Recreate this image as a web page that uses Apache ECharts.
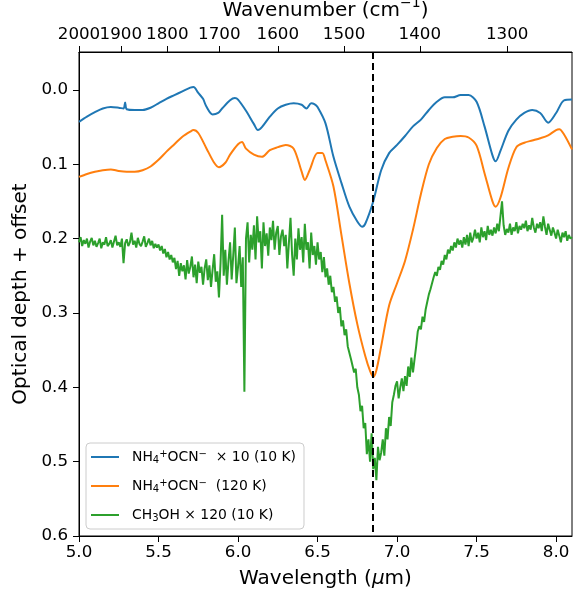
<!DOCTYPE html>
<html><head><meta charset="utf-8">
<script src="https://cdn.jsdelivr.net/npm/echarts@6/dist/echarts.min.js"></script>
<style>html,body{margin:0;padding:0;background:#fff}#c{width:585px;height:597px}</style>
</head><body><div id="c"></div>
<script>
// ---- data ----
const seriesNames = ['NH4+OCN- x 10 (10 K)', 'NH4+OCN- (120 K)', 'CH3OH x 120 (10 K)'];
const legendLabels = ['NH{sub|4}{sup|+}OCN{sup|−}  × 10 (10 K)', 'NH{sub|4}{sup|+}OCN{sup|−}  (120 K)', 'CH{sub|3}OH × 120 (10 K)'];

const blueWl = [5.00,5.05,5.10,5.15,5.20,5.25,5.28,5.29,5.30,5.35,5.40,5.45,5.50,5.55,5.60,5.65,5.70,5.72,5.75,5.78,5.80,5.84,5.875,5.90,5.95,5.98,6.00,6.05,6.10,6.125,6.15,6.20,6.25,6.30,6.35,6.40,6.43,6.46,6.48,6.50,6.55,6.60,6.65,6.70,6.75,6.78,6.80,6.85,6.90,6.95,7.00,7.05,7.10,7.15,7.20,7.25,7.30,7.35,7.40,7.45,7.50,7.55,7.60,7.62,7.65,7.70,7.75,7.80,7.85,7.90,7.95,8.00,8.05,8.10];
const blueTau = [0.043,0.036,0.030,0.025,0.023,0.024,0.025,0.017,0.026,0.027,0.027,0.024,0.018,0.012,0.007,0.002,-0.003,-0.004,0.004,0.012,0.022,0.033,0.031,0.025,0.014,0.011,0.013,0.028,0.046,0.054,0.050,0.036,0.025,0.020,0.018,0.020,0.025,0.018,0.019,0.023,0.045,0.090,0.125,0.157,0.177,0.184,0.180,0.150,0.108,0.085,0.074,0.062,0.049,0.040,0.027,0.016,0.010,0.010,0.007,0.007,0.016,0.049,0.088,0.096,0.082,0.055,0.040,0.031,0.027,0.031,0.044,0.031,0.014,0.013];

const orangeWl = [5.00,5.05,5.10,5.15,5.20,5.25,5.30,5.35,5.40,5.45,5.50,5.55,5.60,5.65,5.70,5.72,5.75,5.80,5.85,5.88,5.92,5.95,6.00,6.025,6.05,6.10,6.15,6.20,6.25,6.30,6.35,6.40,6.42,6.45,6.50,6.53,6.55,6.60,6.65,6.70,6.75,6.80,6.83,6.85,6.87,6.90,6.95,7.00,7.05,7.10,7.15,7.20,7.25,7.30,7.35,7.40,7.45,7.50,7.55,7.60,7.62,7.65,7.70,7.75,7.80,7.85,7.90,7.95,8.00,8.02,8.05,8.10];
const orangeTau = [0.117,0.113,0.110,0.108,0.107,0.109,0.110,0.110,0.108,0.103,0.094,0.083,0.073,0.063,0.056,0.054,0.058,0.078,0.098,0.104,0.098,0.087,0.073,0.070,0.079,0.087,0.090,0.081,0.077,0.074,0.079,0.110,0.121,0.108,0.085,0.085,0.095,0.130,0.195,0.260,0.315,0.358,0.378,0.386,0.377,0.345,0.290,0.260,0.230,0.188,0.140,0.100,0.078,0.066,0.063,0.062,0.064,0.075,0.112,0.150,0.157,0.145,0.105,0.077,0.071,0.068,0.065,0.061,0.054,0.053,0.060,0.080];

// green: sampled every 0.01 um from 5.00 um
const greenStartWl = 5.0;
const greenStepWl = 0.01;
const greenTau = [
0.205,0.198,0.210,0.202,0.207,0.200,0.212,0.204,0.199,0.209,
0.203,0.211,0.206,0.200,0.213,0.205,0.208,0.198,0.210,0.207,
0.202,0.212,0.204,0.196,0.209,0.205,0.211,0.200,0.233,0.206,
0.201,0.210,0.205,0.192,0.208,0.203,0.212,0.199,0.207,0.210,
0.204,0.197,0.211,0.206,0.200,0.209,0.203,0.213,0.207,0.212,
0.208,0.216,0.210,0.220,0.214,0.225,0.218,0.228,0.222,0.232,
0.226,0.241,0.230,0.250,0.233,0.244,0.236,0.255,0.229,0.247,
0.238,0.224,0.252,0.235,0.260,0.231,0.246,0.238,0.262,0.240,
0.228,0.256,0.236,0.265,0.242,0.221,0.258,0.244,0.279,0.233,
0.168,0.250,0.215,0.262,0.230,0.205,0.255,0.222,0.185,0.260,
0.238,0.210,0.265,0.225,0.406,0.200,0.178,0.232,0.195,0.215,
0.182,0.228,0.170,0.205,0.190,0.240,0.178,0.210,0.193,0.223,
0.185,0.202,0.176,0.215,0.192,0.183,0.222,0.197,0.188,0.210,
0.195,0.240,0.205,0.172,0.222,0.250,0.200,0.228,0.186,0.215,
0.198,0.232,0.180,0.215,0.205,0.240,0.192,0.222,0.210,0.235,
0.205,0.228,0.218,0.245,0.225,0.252,0.240,0.262,0.250,0.272,
0.265,0.285,0.278,0.300,0.292,0.318,0.310,0.330,0.322,0.345,
0.345,0.362,0.360,0.380,0.375,0.400,0.410,0.432,0.425,0.455,
0.448,0.490,0.470,0.500,0.462,0.510,0.495,0.525,0.480,0.498,
0.488,0.470,0.492,0.455,0.470,0.440,0.452,0.420,0.410,0.398,
0.392,0.415,0.400,0.388,0.405,0.385,0.398,0.372,0.386,0.360,
0.380,0.362,0.345,0.325,0.318,0.322,0.305,0.312,0.295,0.285,
0.275,0.268,0.260,0.252,0.245,0.250,0.238,0.242,0.230,0.235,
0.222,0.228,0.215,0.220,0.210,0.216,0.205,0.212,0.200,0.208,
0.202,0.212,0.198,0.208,0.195,0.210,0.192,0.205,0.199,0.188,
0.200,0.192,0.205,0.185,0.198,0.190,0.202,0.183,0.195,0.188,
0.196,0.185,0.193,0.180,0.190,0.170,0.150,0.182,0.195,0.187,
0.192,0.180,0.195,0.185,0.190,0.178,0.193,0.183,0.188,0.180,
0.186,0.176,0.190,0.182,0.188,0.172,0.185,0.192,0.180,0.186,
0.178,0.190,0.170,0.184,0.195,0.180,0.188,0.196,0.185,0.192,
0.200,0.188,0.196,0.205,0.192,0.198,0.190,0.203,0.195,0.200,
0.198];

const wavelengthTicks = [5.0,5.5,6.0,6.5,7.0,7.5,8.0];
const wavenumberTicks = [2000,1900,1800,1700,1600,1500,1400,1300];
const depthTicks = [0.0,0.1,0.2,0.3,0.4,0.5,0.6];
const markerWl = 6.85;
const colors = ['#1f77b4','#ff7f0e','#2ca02c'];

// ---- chart ----
const FONT = 'DejaVu Sans';
const zip = (xs, ys) => xs.map((x, i) => [x, ys[i]]);
const greenData = greenTau.map((v, i) => [+(greenStartWl + i * greenStepWl).toFixed(2), v]);
const wnPos = wavenumberTicks.map(n => 10000 / n);

const tickStyle = {color:'#000', width:1};
const labelBase = {color:'#000', fontSize:16.7, fontFamily:FONT, showMinLabel:true, showMaxLabel:true, hideOverlap:false};
const nameBase = {color:'#000', fontSize:20, fontFamily:FONT};

const chart = echarts.init(document.getElementById('c'), null, {renderer:'canvas'});
chart.setOption({
  animation:false,
  backgroundColor:'#fff',
  grid:{left:79, right:13, top:52, bottom:61, show:true, borderColor:'#000', borderWidth:1,
        backgroundColor:'transparent', containLabel:false, outerBoundsMode:'none'},
  xAxis:[
    {type:'value', min:5, max:8.1, position:'bottom',
     axisLine:{show:true, onZero:false, lineStyle:tickStyle},
     axisTick:{show:true, length:6, lineStyle:tickStyle, customValues:wavelengthTicks},
     axisLabel:Object.assign({customValues:wavelengthTicks, formatter:v => v.toFixed(1), margin:8}, labelBase),
     splitLine:{show:false},
     name:'Wavelength ({i|μ}m)', nameLocation:'middle', nameGap:33,
     nameTextStyle:Object.assign({rich:{i:{fontStyle:'italic', fontSize:20, fontFamily:FONT, color:'#000'}}}, nameBase)},
    // top wavenumber axis: ticks for all, labels 1900..1300
    {type:'value', min:5, max:8.1, position:'top',
     axisLine:{show:true, onZero:false, lineStyle:tickStyle},
     axisTick:{show:true, length:6, lineStyle:tickStyle, customValues:wnPos},
     axisLabel:Object.assign({customValues:wnPos.slice(1), formatter:v => String(Math.round(10000 / v)), margin:9}, labelBase),
     splitLine:{show:false},
     name:'Wavenumber (cm{sup|−1})', nameLocation:'middle', nameGap:27,
     nameTextStyle:Object.assign({rich:{sup:{fontSize:14, fontFamily:FONT, color:'#000', verticalAlign:'bottom', lineHeight:14, padding:[0,0,11,0]}}}, nameBase)},
    // top wavenumber axis: label of the first tick (2000)
    {type:'value', min:5, max:8.1, position:'top',
     axisLine:{show:false}, axisTick:{show:false}, splitLine:{show:false},
     axisLabel:Object.assign({customValues:wnPos.slice(0,1), formatter:v => String(Math.round(10000 / v)), margin:9}, labelBase)}
  ],
  yAxis:{type:'value', min:-0.051, max:0.6, inverse:true,
     axisLine:{show:true, onZero:false, lineStyle:tickStyle},
     axisTick:{show:true, length:6, lineStyle:tickStyle, customValues:depthTicks},
     axisLabel:Object.assign({customValues:depthTicks, formatter:v => v.toFixed(1), margin:11}, labelBase),
     splitLine:{show:false},
     name:'Optical depth + offset', nameLocation:'middle', nameGap:46, nameRotate:90,
     nameTextStyle:nameBase},
  legend:{
    orient:'vertical', left:86, top:443,
    padding:[6, 8, 6, 5], itemGap:13, itemWidth:28, itemHeight:2,
    icon:'rect',
    backgroundColor:'rgba(255,255,255,0.8)', borderColor:'#cccccc', borderWidth:1, borderRadius:4,
    data:seriesNames,
    formatter:name => legendLabels[seriesNames.indexOf(name)],
    textStyle:{color:'#000', fontSize:13.9, fontFamily:FONT, lineHeight:16, padding:[0,0,0,8],
      rich:{
        sub:{fontSize:10, fontFamily:FONT, color:'#000', verticalAlign:'bottom', lineHeight:10, padding:[6,0,0,0]},
        sup:{fontSize:10, fontFamily:FONT, color:'#000', verticalAlign:'top', lineHeight:10, padding:[0,0,6,0]}
      }}
  },
  series:[
    {name:seriesNames[0], type:'line', xAxisIndex:0, data:zip(blueWl, blueTau), showSymbol:false, symbol:'none', smooth:0.3,
     lineStyle:{color:colors[0], width:2}, itemStyle:{color:colors[0]}, z:2},
    {name:seriesNames[1], type:'line', xAxisIndex:0, data:zip(orangeWl, orangeTau), showSymbol:false, symbol:'none', smooth:0.3,
     lineStyle:{color:colors[1], width:2}, itemStyle:{color:colors[1]}, z:3},
    {name:seriesNames[2], type:'line', xAxisIndex:0, data:greenData, showSymbol:false, symbol:'none',
     lineStyle:{color:colors[2], width:2}, itemStyle:{color:colors[2]}, z:4},
    {name:'marker', type:'line', xAxisIndex:0, data:[], z:5,
     markLine:{silent:true, symbol:['none','none'], label:{show:false},
       lineStyle:{type:[7,4], color:'#000', width:2},
       data:[{xAxis:markerWl}]}}
  ]
});
</script></body></html>
